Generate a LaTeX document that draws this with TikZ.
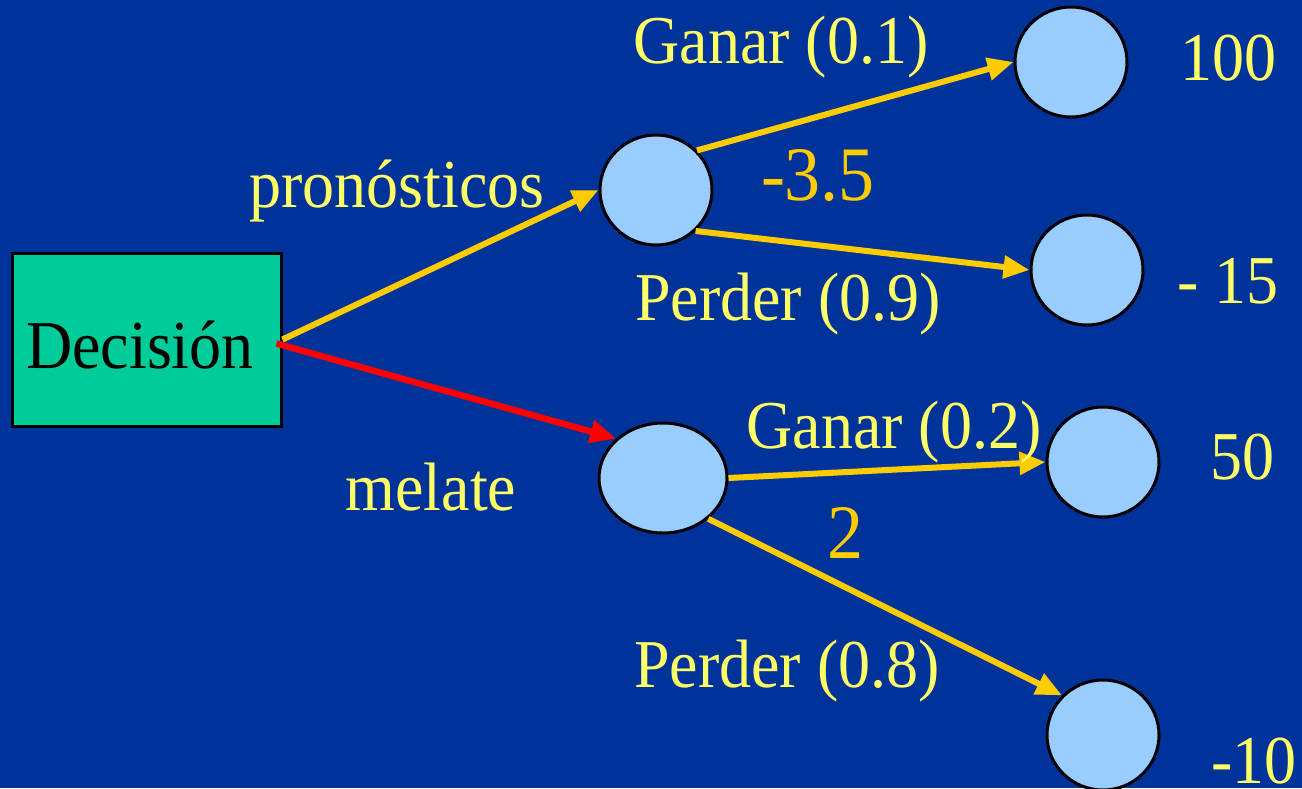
\documentclass[tikz,border=0pt]{standalone}
\usepackage{fontspec}
\setmainfont{Liberation Serif}
\usetikzlibrary{arrows.meta,shapes.geometric}
\definecolor{bgblue}{HTML}{003399}
\definecolor{boxgreen}{HTML}{00CC99}
\definecolor{chancefill}{HTML}{99CCFF}
\definecolor{lblyellow}{HTML}{FFFF66}
\definecolor{edgeyellow}{HTML}{FFCC00}
\definecolor{edgered}{HTML}{FF0000}
\newcommand\vstretch[1]{\scalebox{1}[1.07]{#1}}
\begin{document}
\begin{tikzpicture}[x=1pt,y=-1pt,
  decbox/.style={rectangle, draw=black, line width=3pt, fill=boxgreen, inner sep=0pt,
    minimum width=269pt, minimum height=173pt},
  chance/.style={ellipse, draw=black, line width=3pt, fill=chancefill, inner sep=0pt,
    minimum width=112pt, minimum height=110pt},
  lbl/.style={text=lblyellow, inner sep=0pt, anchor=base, font=\fontsize{64}{70}\selectfont},
  val/.style={text=edgeyellow, inner sep=0pt, anchor=base, font=\fontsize{72}{78}\selectfont},
  edge/.style={draw=edgeyellow, line width=6pt, -{Triangle[length=26pt,width=22pt]}},
  chosen/.style={draw=edgered, line width=6.5pt, -{Triangle[length=26pt,width=22pt]}}
]
\fill[bgblue] (0,0) rectangle (1302,788);
\useasboundingbox (0,0) rectangle (1302,788);

% nodes
\node[decbox] (D) at (146.5,339.5) {};
\node[chance] (A) at (656,190) {};
\node[chance] (M) at (663,478) [minimum width=128pt] {};
\node[chance] (T1) at (1071,62) {};
\node[chance] (T2) at (1087,270) {};
\node[chance] (T3) at (1103,462) {};
\node[chance] (T4) at (1103,735) {};

% connectors
\draw[edge] (D.east) -- (A.west);
\draw[chosen] ([xshift=-6pt,yshift=-4pt]D.east) -- (M.140);
\draw[edge] (A.44) -- (T1.west);
\draw[edge] (A.-46) -- (T2.west);
\draw[edge] (M.east) -- (T3.west);
\draw[edge] (M.-42) -- (T4.136);

% labels
\node[anchor=base, inner sep=0pt, font=\fontsize{64}{70}\selectfont, text=black] (tD) at (140,368) {\vstretch{Decisión}};
\node[lbl] (l1) at (397,207) {\vstretch{pronósticos}};
\node[lbl] (l2) at (431,510) {\vstretch{melate}};
\node[lbl] (l3) at (781,63) {\vstretch{Ganar (0.1)}};
\node[lbl] (l4) at (788,320) {\vstretch{Perder (0.9)}};
\node[lbl] (l5) at (894,448) {\vstretch{Ganar (0.2)}};
\node[lbl] (l6) at (787,687) {\vstretch{Perder (0.8)}};
\node[val] (v1) at (818,200) {\vstretch{-3.5}};
\node[val] (v2) at (845,558) {\vstretch{2}};
\node[lbl] (r1) at (1228,80) {\vstretch{100}};
\node[lbl] (r2) at (1228,303) {\vstretch{- 15}};
\node[lbl] (r3) at (1242,479) {\vstretch{50}};
\node[lbl] (r4) at (1254,783) {\vstretch{-10}};
\end{tikzpicture}
\end{document}
